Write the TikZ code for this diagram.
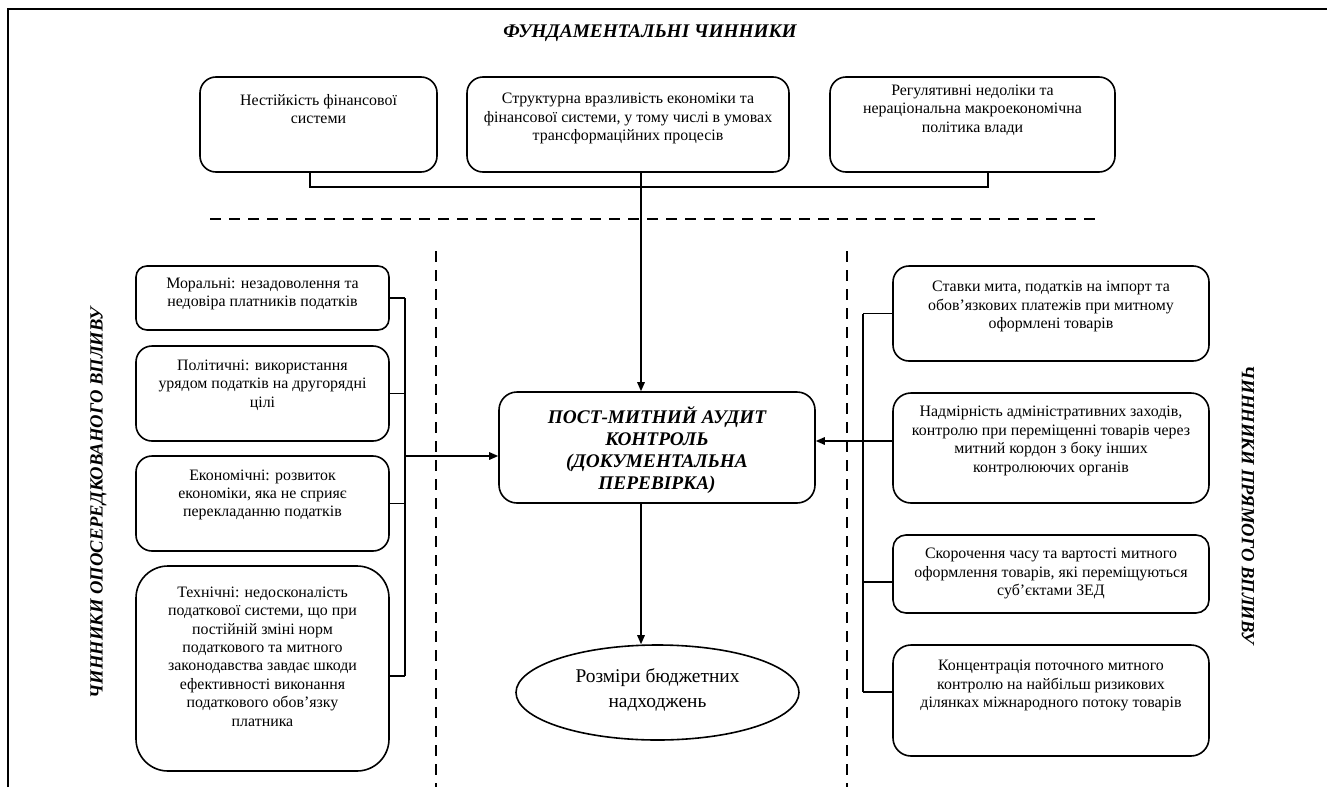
\documentclass[tikz,border=0pt]{standalone}
\usepackage{fontspec}
\setmainfont{Liberation Serif}
\usetikzlibrary{arrows.meta,shapes.geometric,calc}
\begin{document}
\begin{tikzpicture}[x=1pt,y=-1pt,
  box/.style={draw,line width=1.6pt,inner sep=0pt},
  txt/.style={align=center,inner sep=0pt,font=\fontsize{15.9}{18.4}\selectfont},
  conn/.style={line width=1.5pt},
  arr/.style={line width=1.5pt,-{Triangle[length=9pt,width=7.5pt]}},
  sep/.style={line width=1.4pt,dash pattern=on 11pt off 8pt},
  head/.style={inner sep=0pt,font=\fontsize{19.3}{22}\selectfont\bfseries\itshape},
  vhead/.style={inner sep=0pt,font=\fontsize{18.6}{22}\selectfont\bfseries\itshape}
]
\useasboundingbox (0,0) rectangle (1327,787);
% frame
\draw[line width=2.5pt] (8,787) -- (8,9) -- (1327,9);

% titles
\node[head] (title) at (650,33) {ФУНДАМЕНТАЛЬНІ ЧИННИКИ};
\node[vhead,rotate=90] (ltitle) at (98.5,503) {ЧИННИКИ ОПОСЕРЕДКОВАНОГО ВПЛИВУ};
\node[vhead,rotate=-90] (rtitle) at (1248,505) {ЧИННИКИ ПРЯМОГО ВПЛИВУ};

% top boxes
\node[box,rounded corners=16,minimum width=237,minimum height=95] (b1) at (318.5,124.5) {};
\node[txt] (t1) at (318.5,109) {Нестійкість фінансової\\системи};
\node[box,rounded corners=16,minimum width=322,minimum height=95] (b2) at (628,124.5) {};
\node[txt] (t2) at (628,118.5) {Структурна вразливість економіки та\\фінансової системи, у тому числі в умовах\\трансформаційних процесів};
\node[box,rounded corners=16,minimum width=285,minimum height=95] (b3) at (972.5,124.5) {};
\node[txt] (t3) at (972.5,110) {Регулятивні недоліки та\\нераціональна макроекономічна\\політика влади};

% separators
\draw[sep] (210,219) -- (1100,219);
\draw[sep] (436,251) -- (436,787);
\draw[sep] (847,251) -- (847,787);

% central
\node[box,rounded corners=18,minimum width=316,minimum height=111] (cen) at (657,447.5) {};
\node[inner sep=0pt,align=center,font=\fontsize{19.3}{22.3}\selectfont\bfseries\itshape] (tc) at (657,450) {ПОСТ-МИТНИЙ АУДИТ\\КОНТРОЛЬ\\(ДОКУМЕНТАЛЬНА\\ПЕРЕВІРКА)};
\node[draw,line width=1.6pt,ellipse,minimum width=283,minimum height=95,inner sep=0pt] (ell) at (657.5,692.5) {};
\node[inner sep=0pt,align=center,font=\fontsize{19.4}{25}\selectfont] (te) at (657.5,689.5) {Розміри бюджетних\\надходжень};

% left boxes
\node[box,rounded corners=11,minimum width=253,minimum height=64] (L1) at (262.5,298) {};
\node[txt] (tl1) at (262.5,294) {Моральні: незадоволення та\\недовіра платників податків};
\node[box,rounded corners=16,minimum width=253,minimum height=95] (L2) at (262.5,393.5) {};
\node[txt] (tl2) at (262.5,385) {Політичні: використання\\урядом податків на другорядні\\цілі};
\node[box,rounded corners=16,minimum width=253,minimum height=95] (L3) at (262.5,503.5) {};
\node[txt] (tl3) at (262.5,495) {Економічні: розвиток\\економіки, яка не сприяє\\перекладанню податків};
\node[box,rounded corners=32,minimum width=253,minimum height=205] (L4) at (262.5,668.5) {};
\node[txt] (tl4) at (262.5,656.5) {Технічні: недосконалість\\податкової системи, що при\\постійній зміні норм\\податкового та митного\\законодавства завдає шкоди\\ефективності виконання\\податкового обов’язку\\платника};

% right boxes
\node[box,rounded corners=16,minimum width=316,minimum height=95] (R1) at (1051,313.5) {};
\node[txt] (tr1) at (1051,306.5) {Ставки мита, податків на імпорт та\\обов’язкових платежів при митному\\оформлені товарів};
\node[box,rounded corners=18,minimum width=316,minimum height=110] (R2) at (1051,448) {};
\node[txt] (tr2) at (1051,441) {Надмірність адміністративних заходів,\\контролю при переміщенні товарів через\\митний кордон з боку інших\\контролюючих органів};
\node[box,rounded corners=13,minimum width=316,minimum height=78] (R3) at (1051,574) {};
\node[txt] (tr3) at (1051,573.5) {Скорочення часу та вартості митного\\оформлення товарів, які переміщуються\\суб’єктами ЗЕД};
\node[box,rounded corners=18,minimum width=316,minimum height=111] (R4) at (1051,700.5) {};
\node[txt] (tr4) at (1051,685.5) {Концентрація поточного митного\\контролю на найбільш ризикових\\ділянках міжнародного потоку товарів};

% top connectors
\coordinate (tby) at (0,187);
\draw[conn] ([xshift=-8.5]b1.south) -- ([xshift=-8.5]b1.south |- tby) -- ([xshift=15.5]b3.south |- tby) -- ([xshift=15.5]b3.south);
\draw[arr] ([xshift=13]b2.south) -- ([xshift=13]b2.south |- cen.north);
\draw[arr] ([xshift=-16]cen.south) -- ([xshift=-16]cen.south |- ell.north);

% left bus
\coordinate (lbx) at (405,0);
\draw[conn] (L1.east) -- (L1.east -| lbx);
\draw[conn] (L2.east) -- (L2.east -| lbx);
\draw[conn] (L3.east) -- (L3.east -| lbx);
\draw[conn] ([yshift=-7.5]L4.east) -- ([yshift=-7.5]L4.east -| lbx);
\draw[conn] (L1.east -| lbx) -- ([yshift=-7.5]L4.east -| lbx);
\draw[arr] ([yshift=-8.5]cen.west -| lbx) -- ([yshift=-8.5]cen.west);

% right bus
\coordinate (rbx) at (863,0);
\draw[conn] (R1.west) -- (R1.west -| rbx);
\draw[conn] ([yshift=-8]R3.west) -- ([yshift=-8]R3.west -| rbx);
\draw[conn] ([yshift=8.5]R4.west) -- ([yshift=8.5]R4.west -| rbx);
\draw[conn] (R1.west -| rbx) -- ([yshift=8.5]R4.west -| rbx);
\draw[arr] ([yshift=7]R2.west) -- ([yshift=7]R2.west -| cen.east);
\end{tikzpicture}
\end{document}
